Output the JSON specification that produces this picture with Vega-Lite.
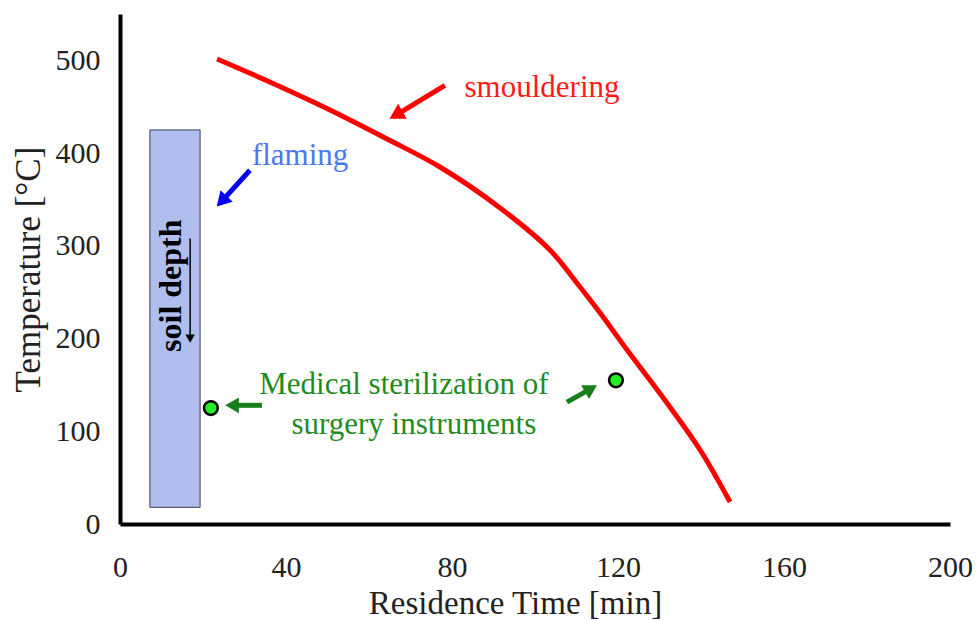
{
  "$schema": "https://vega.github.io/schema/vega-lite/v6.json",
  "width": 830,
  "height": 510,
  "autosize": {"type": "none"},
  "padding": {"left": 120, "top": 14, "right": 27, "bottom": 97},
  "background": "white",
  "config": {"view": {"stroke": null}, "font": "Liberation Serif", "text": {"font": "Liberation Serif"}},
  "datasets": {
    "curve": [
      {"t": 23.4, "temp": 501.5},
      {"t": 36.1, "temp": 476.7},
      {"t": 50.6, "temp": 446.5},
      {"t": 63.9, "temp": 416.3},
      {"t": 77.1, "temp": 385},
      {"t": 91.6, "temp": 340.8},
      {"t": 103.6, "temp": 295.5},
      {"t": 110.1, "temp": 259.9},
      {"t": 115.7, "temp": 227.5},
      {"t": 122.2, "temp": 187.6},
      {"t": 131.8, "temp": 130.5},
      {"t": 139.8, "temp": 79.8},
      {"t": 147, "temp": 23.7}
    ],
    "box": [{"t0": 7.2, "t1": 19.3, "lo": 18, "hi": 425}],
    "dots": [{"t": 21.9, "temp": 125}, {"t": 119.5, "temp": 155}],
    "redArrow": [{"t0": 78.3, "y0": 473, "t1": 66.5, "y1": 441}],
    "blueArrow": [{"t0": 31.3, "y0": 381.5, "t1": 24.5, "y1": 348}],
    "greenLeft": [{"t0": 34.2, "y0": 128, "t1": 27, "y1": 128}],
    "greenRight": [{"t0": 107.7, "y0": 131.5, "t1": 113.5, "y1": 146}],
    "depthArrow": [{"t0": 16.9, "y0": 308, "t1": 16.9, "y1": 200}],
    "labels": [
      {"t": 101.7, "temp": 470, "label": "smouldering", "grp": "red"},
      {"t": 43.4, "temp": 397, "label": "flaming", "grp": "blue"},
      {"t": 68.4, "temp": 150, "label": "Medical sterilization of", "grp": "green"},
      {"t": 70.8, "temp": 107, "label": "surgery instruments", "grp": "green"}
    ],
    "soil": [{"t": 12.4, "temp": 257, "label": "soil depth"}]
  },
  "layer": [
    {
      "data": {"name": "box"},
      "mark": {"type": "rect", "fill": "#afbeef", "stroke": "#3a3f55", "strokeWidth": 1},
      "encoding": {
        "x": {"field": "t0", "type": "quantitative", "scale": {"domain": [0, 200], "nice": false, "zero": false},
          "axis": {"values": [0, 40, 80, 120, 160, 200], "title": "Residence Time [min]", "grid": false, "ticks": false,
            "domainColor": "black", "domainWidth": 4, "labelFontSize": 30, "labelColor": "#222", "labelPadding": 28,
            "labelFont": "Liberation Serif", "titleFont": "Liberation Serif",
            "titleFontSize": 33, "titleFontWeight": "normal", "titleColor": "#222",
            "titleX": 395, "titleY": 89, "titleBaseline": "alphabetic", "titleAlign": "center", "labelFlush": false}},
        "x2": {"field": "t1"},
        "y": {"field": "lo", "type": "quantitative", "scale": {"domain": [0, 550], "nice": false},
          "axis": {"values": [0, 100, 200, 300, 400, 500], "title": "Temperature [°C]", "grid": false, "ticks": false,
            "domainColor": "black", "domainWidth": 4, "labelFontSize": 30, "labelColor": "#222", "labelPadding": 20,
            "labelFont": "Liberation Serif", "titleFont": "Liberation Serif",
            "titleFontSize": 35, "titleFontWeight": "normal", "titleColor": "#222",
            "titleX": -92, "titleY": 255, "titleBaseline": "middle", "titleAlign": "center", "titleAngle": 270}},
        "y2": {"field": "hi"}
      }
    },
    {
      "data": {"name": "curve"},
      "mark": {"type": "line", "color": "#ff0000", "strokeWidth": 5, "interpolate": "catmull-rom"},
      "encoding": {
        "x": {"field": "t", "type": "quantitative"},
        "y": {"field": "temp", "type": "quantitative"}
      }
    },
    {
      "data": {"name": "dots"},
      "mark": {"type": "point", "shape": "circle", "size": 190, "filled": true, "fill": "#22ee22", "stroke": "black", "strokeWidth": 2.5, "opacity": 1},
      "encoding": {
        "x": {"field": "t", "type": "quantitative"},
        "y": {"field": "temp", "type": "quantitative"}
      }
    },
    {
      "data": {"name": "redArrow"},
      "layer": [
        {"mark": {"type": "rule", "color": "#ff0000", "strokeWidth": 5},
         "encoding": {"x": {"field": "t0", "type": "quantitative"}, "y": {"field": "y0", "type": "quantitative"}, "x2": {"field": "t1"}, "y2": {"field": "y1"}}},
        {"mark": {"type": "point", "shape": "triangle-up", "filled": true, "color": "#ff0000", "size": 300, "angle": 240, "opacity": 1},
         "encoding": {"x": {"field": "t1", "type": "quantitative"}, "y": {"field": "y1", "type": "quantitative"}}}
      ]
    },
    {
      "data": {"name": "blueArrow"},
      "layer": [
        {"mark": {"type": "rule", "color": "#0000ee", "strokeWidth": 5},
         "encoding": {"x": {"field": "t0", "type": "quantitative"}, "y": {"field": "y0", "type": "quantitative"}, "x2": {"field": "t1"}, "y2": {"field": "y1"}}},
        {"mark": {"type": "point", "shape": "triangle-up", "filled": true, "color": "#0000ee", "size": 280, "angle": 223, "opacity": 1},
         "encoding": {"x": {"field": "t1", "type": "quantitative"}, "y": {"field": "y1", "type": "quantitative"}}}
      ]
    },
    {
      "data": {"name": "greenLeft"},
      "layer": [
        {"mark": {"type": "rule", "color": "#17801a", "strokeWidth": 5},
         "encoding": {"x": {"field": "t0", "type": "quantitative"}, "y": {"field": "y0", "type": "quantitative"}, "x2": {"field": "t1"}, "y2": {"field": "y1"}}},
        {"mark": {"type": "point", "shape": "triangle-up", "filled": true, "color": "#17801a", "size": 250, "angle": 270, "opacity": 1},
         "encoding": {"x": {"field": "t1", "type": "quantitative"}, "y": {"field": "y1", "type": "quantitative"}}}
      ]
    },
    {
      "data": {"name": "greenRight"},
      "layer": [
        {"mark": {"type": "rule", "color": "#17801a", "strokeWidth": 5},
         "encoding": {"x": {"field": "t0", "type": "quantitative"}, "y": {"field": "y0", "type": "quantitative"}, "x2": {"field": "t1"}, "y2": {"field": "y1"}}},
        {"mark": {"type": "point", "shape": "triangle-up", "filled": true, "color": "#17801a", "size": 250, "angle": 60, "opacity": 1},
         "encoding": {"x": {"field": "t1", "type": "quantitative"}, "y": {"field": "y1", "type": "quantitative"}}}
      ]
    },
    {
      "data": {"name": "depthArrow"},
      "layer": [
        {"mark": {"type": "rule", "color": "black", "strokeWidth": 1.5},
         "encoding": {"x": {"field": "t0", "type": "quantitative"}, "y": {"field": "y0", "type": "quantitative"}, "x2": {"field": "t1"}, "y2": {"field": "y1"}}},
        {"mark": {"type": "point", "shape": "triangle-down", "filled": true, "color": "black", "size": 90, "opacity": 1},
         "encoding": {"x": {"field": "t1", "type": "quantitative"}, "y": {"field": "y1", "type": "quantitative"}}}
      ]
    },
    {
      "data": {"name": "labels"},
      "mark": {"type": "text", "font": "Liberation Serif", "fontSize": 31, "align": "center", "baseline": "middle"},
      "encoding": {
        "x": {"field": "t", "type": "quantitative"},
        "y": {"field": "temp", "type": "quantitative"},
        "text": {"field": "label"},
        "color": {"field": "grp", "type": "nominal", "legend": null,
          "scale": {"domain": ["red", "blue", "green"], "range": ["#ff1a1a", "#4a78f5", "#1f8c22"]}}
      }
    },
    {
      "data": {"name": "soil"},
      "mark": {"type": "text", "font": "Liberation Serif", "fontSize": 32, "fontWeight": "bold", "angle": 270, "align": "center", "baseline": "middle", "color": "black"},
      "encoding": {
        "x": {"field": "t", "type": "quantitative"},
        "y": {"field": "temp", "type": "quantitative"},
        "text": {"field": "label"}
      }
    }
  ]
}
